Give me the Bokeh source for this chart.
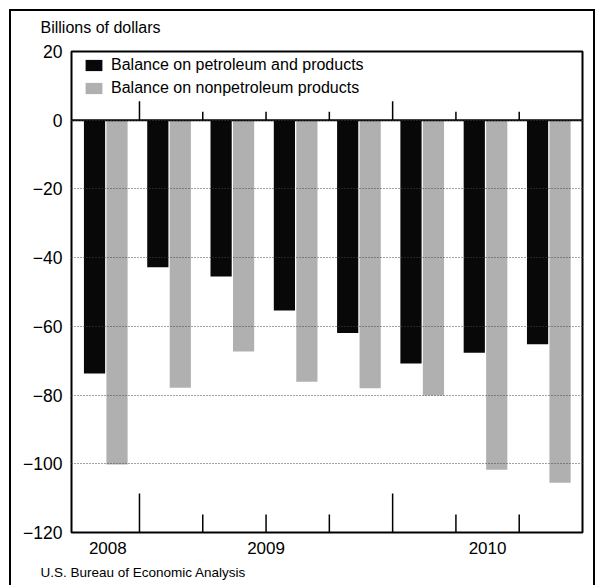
from bokeh.plotting import figure
from bokeh.models import (Range1d, FixedTicker, Span, Title,
                          Legend, LegendItem, ColumnDataSource)
from bokeh.embed import file_html
from bokeh.resources import INLINE

# ---- data ----
quarters = ["2008Q4", "2009Q1", "2009Q2", "2009Q3", "2009Q4",
            "2010Q1", "2010Q2", "2010Q3"]
petroleum = [-73.7, -42.8, -45.5, -55.4, -61.9, -70.8, -67.7, -65.2]
nonpetroleum = [-100.2, -77.9, -67.3, -76.1, -78.0, -80.1, -101.7, -105.5]
years = ["2008", "2009", "2010"]
year_quarter_count = [1, 4, 3]
y_ticks = [20, 0, -20, -40, -60, -80, -100, -120]

FONT = "Liberation Sans"

n = len(quarters)
idx = list(range(n))
src = ColumnDataSource(dict(
    x_pet=[i + 0.29 for i in idx],
    x_non=[i + 0.645 for i in idx],
    pet=petroleum,
    non=nonpetroleum,
))

X0, X1, Y0, Y1 = -0.074, 8.0, -120, 20
FH = 481.0
pxy = FH / (Y1 - Y0)

p = figure(width=586, height=576, output_backend="svg", toolbar_location=None,
           x_range=Range1d(X0, X1), y_range=Range1d(Y0, Y1),
           min_border_left=60, min_border_right=15, min_border_top=40,
           min_border_bottom=55)
p.margin = (9, 0, 0, 9)
p.styles = {"border-top": "2px solid black", "border-left": "2px solid black",
            "border-right": "2px solid black"}
p.background_fill_color = "white"
p.border_fill_color = "white"
p.outline_line_color = "black"
p.outline_line_width = 2

r_pet = p.vbar(x="x_pet", top="pet", width=0.335, source=src,
               fill_color="#080808", line_color=None)
r_non = p.vbar(x="x_non", top="non", width=0.335, source=src,
               fill_color="#b0b0b0", line_color=None)

# zero line
p.add_layout(Span(location=0, dimension="width", line_color="black",
                  line_width=2))

# quarter boundary ticks (on zero line and bottom)
bounds = list(range(1, n))
year_bounds = []
acc = 0
for c in year_quarter_count[:-1]:
    acc += c
    year_bounds.append(acc)
bot_long, bot_short = 39 / pxy, 18 / pxy
top_long, top_short = 19 / pxy, 8.5 / pxy
x0s, y0s, y1s = [], [], []
for b in bounds:
    lng = b in year_bounds
    x0s += [b, b]
    y0s += [Y0, 0]
    y1s += [Y0 + (bot_long if lng else bot_short), (top_long if lng else top_short)]
p.segment(x0=x0s, y0=y0s, x1=x0s, y1=y1s, line_color="black", line_width=1.5)

# year labels on x axis
year_pos = []
acc = 0
for c in year_quarter_count:
    year_pos.append(acc + c / 2.0)
    acc += c
p.xaxis.ticker = FixedTicker(ticks=year_pos)
p.xaxis.major_label_overrides = {yp: y for yp, y in zip(year_pos, years)}
p.xaxis.major_tick_in = 0
p.xaxis.major_tick_out = 0
p.xaxis.minor_tick_in = 0
p.xaxis.minor_tick_out = 0
p.xaxis.axis_line_color = None
p.xaxis.major_label_text_font = FONT
p.xaxis.major_label_text_font_size = "17px"
p.xaxis.major_label_text_color = "black"
p.xaxis.major_label_standoff = 9

p.yaxis.ticker = FixedTicker(ticks=y_ticks)
p.yaxis.major_label_overrides = {t: (str(t).replace("-", "\u2212")) for t in y_ticks}
p.yaxis.major_tick_in = 0
p.yaxis.major_tick_out = 0
p.yaxis.minor_tick_in = 0
p.yaxis.minor_tick_out = 0
p.yaxis.axis_line_color = None
p.yaxis.major_label_text_font = FONT
p.yaxis.major_label_text_font_size = "17.5px"
p.yaxis.major_label_text_color = "black"
p.yaxis.major_label_standoff = 9

p.xgrid.grid_line_color = None
p.ygrid.grid_line_color = "#444444"
p.ygrid.grid_line_dash = "1 2"
p.ygrid.grid_line_width = 1
p.ygrid.level = "overlay"

legend = Legend(items=[
    LegendItem(label="Balance on petroleum and products", renderers=[r_pet]),
    LegendItem(label="Balance on nonpetroleum products", renderers=[r_non]),
], location=(12, 434))
legend.padding = 0
legend.margin = 0
legend.spacing = 3
legend.border_line_color = None
legend.background_fill_alpha = 0
legend.glyph_width = 21
legend.glyph_height = 14
legend.label_height = 20
legend.label_standoff = 7
legend.label_text_font = FONT
legend.label_text_font_size = "16px"
legend.label_text_color = "black"
p.add_layout(legend)

p.title = Title(text="Billions of dollars\n", align="left", offset=-31,
                vertical_align="top", text_line_height=0.85,
                text_font=FONT, text_font_size="16px",
                text_font_style="normal", text_color="black", standoff=0)
p.add_layout(Title(text="U.S. Bureau of Economic Analysis", align="left",
                   offset=-31, text_font=FONT, text_font_size="13.5px",
                   text_font_style="normal", text_color="black", standoff=12),
             "below")

open("out.html", "w").write(file_html(p, INLINE))
